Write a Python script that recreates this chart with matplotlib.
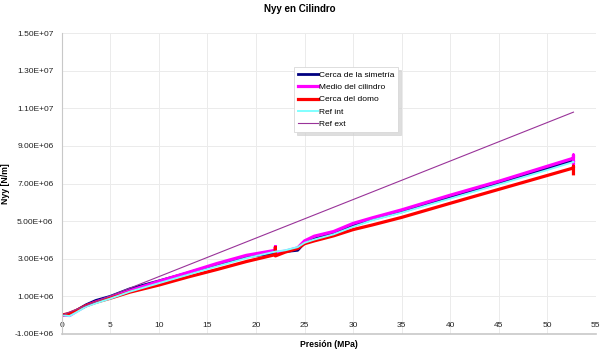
import matplotlib.pyplot as plt
import numpy as np

plt.rcParams['font.family'] = ['Liberation Sans', 'DejaVu Sans']

# presion (MPa) comun para las series del modelo
presion = [0, 0.8, 1.5, 2.5, 3.5, 5, 7, 10, 13, 16, 19, 22, 22, 22, 23, 24.3, 25, 26,
           28, 30, 32, 35, 40, 45, 50, 52.7, 52.7, 52.7]

# Nyy [N/m]
simetria = [0.0, 0.05e6, 0.25e6, 0.55e6, 0.78e6, 1.0e6, 1.4e6, 1.82e6, 2.25e6, 2.7e6, 3.1e6,
            3.3e6, 3.3e6, 3.3e6, 3.38e6, 3.45e6, 3.85e6, 4.05e6, 4.35e6, 4.75e6, 5.1e6,
            5.5e6, 6.28e6, 7.02e6, 7.8e6, 8.22e6, 8.22e6, 8.22e6]
medio = [0.0, -0.02e6, 0.2e6, 0.5e6, 0.7e6, 0.95e6, 1.3e6, 1.8e6, 2.27e6, 2.75e6, 3.18e6,
         3.45e6, 3.65e6, 3.33e6, 3.4e6, 3.58e6, 3.95e6, 4.2e6, 4.45e6, 4.88e6, 5.18e6,
         5.6e6, 6.38e6, 7.12e6, 7.92e6, 8.35e6, 8.52e6, 8.05e6]
domo = [0.0, 0.1e6, 0.25e6, 0.5e6, 0.68e6, 0.9e6, 1.22e6, 1.6e6, 2.03e6, 2.43e6, 2.85e6,
        3.22e6, 3.6e6, 3.15e6, 3.35e6, 3.55e6, 3.8e6, 3.95e6, 4.22e6, 4.55e6, 4.8e6,
        5.2e6, 5.95e6, 6.69e6, 7.43e6, 7.83e6, 7.92e6, 7.52e6]
ref_int = [0.0, -0.05e6, 0.15e6, 0.45e6, 0.63e6, 0.88e6, 1.25e6, 1.7e6, 2.15e6, 2.6e6, 3.03e6,
           3.38e6, 3.38e6, 3.38e6, 3.45e6, 3.62e6, 3.85e6, 4.02e6, 4.3e6, 4.7e6, 5.05e6,
           5.45e6, 6.2e6, 6.95e6, 7.72e6, 8.15e6, 8.15e6, 8.15e6]

presion_ext = [0, 52.7]
ref_ext = [0.0, 10.8e6]

xticks = np.arange(0, 56, 5)
yticks = np.arange(-1e6, 1.6e7, 2e6)

fig = plt.figure(figsize=(6, 3.53), dpi=100)
ax = fig.add_axes([0.103, 0.054, 0.89, 0.852])

ax.plot(presion, simetria, color='#000080', lw=2.0, label='Cerca de la simetría')
ax.plot(presion, medio, color='#FF00FF', lw=2.3, label='Medio del cilindro')
ax.plot(presion, domo, color='#FF0000', lw=2.3, label='Cerca del domo')
ax.plot(presion, ref_int, color='#80FFFF', lw=1.4, label='Ref int')
ax.plot(presion_ext, ref_ext, color='#993399', lw=0.8, label='Ref ext')

ax.set_xlim(0, 55)
ax.set_ylim(-1e6, 1.5e7)
ax.set_xticks(xticks)
ax.set_yticks(yticks)
ax.set_yticklabels([f'{v:.2E}' for v in yticks])
ax.tick_params(labelsize=6, length=0, colors='#222222')
ax.tick_params(axis='y', pad=6)
ax.tick_params(axis='x', pad=5)

ax.grid(True, color='#ebebeb', lw=0.7)
ax.set_axisbelow(True)

# eje x cruzando en cero, marco inferior en -1E6
ax.spines['bottom'].set_position(('data', 0))
ax.spines['bottom'].set_color('none')
ax.spines['top'].set_visible(False)
ax.spines['right'].set_visible(False)
ax.spines['left'].set_color('#c8c8c8')
ax.axhline(-1e6, color='#c8c8c8', lw=1.2, clip_on=False, zorder=3)

fig.suptitle('Nyy en Cilindro', x=0.5, y=0.99, fontsize=7, fontweight='bold', va='top')
fig.text(0.548, 0.01, 'Presión (MPa)', ha='center', va='bottom', fontsize=6.2, fontweight='bold')
fig.text(0.01, 0.48, 'Nyy [N/m]', rotation=90, ha='center', va='center', fontsize=6.3, fontweight='bold')

leg = ax.legend(loc='upper left', bbox_to_anchor=(0.49, 0.81), bbox_transform=fig.transFigure,
                fontsize=6.0, frameon=True, fancybox=False,
                shadow={'color': '#d0d0d0', 'alpha': 0.7}, handlelength=2.4,
                handletextpad=0.15, labelspacing=0.55, borderpad=0.45, borderaxespad=0)
leg.get_frame().set_edgecolor('#d8d8d8')
leg.get_frame().set_linewidth(0.6)

fig.savefig('out.png', dpi=100)
